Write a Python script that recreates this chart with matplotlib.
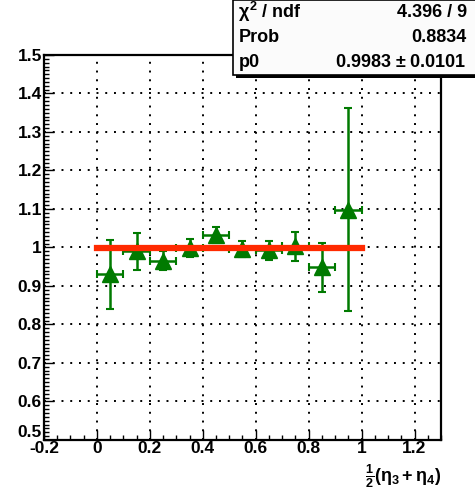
import matplotlib
matplotlib.use("Agg")
import matplotlib.pyplot as plt
from matplotlib.patches import Rectangle
from matplotlib.ticker import MultipleLocator

plt.rcParams['font.family'] = ['Liberation Sans', 'DejaVu Sans']
plt.rcParams['font.weight'] = 'bold'
plt.rcParams['mathtext.fontset'] = 'custom'
plt.rcParams['mathtext.rm'] = 'Liberation Sans:bold'
plt.rcParams['mathtext.bf'] = 'Liberation Sans:bold'
plt.rcParams['mathtext.it'] = 'Liberation Sans:bold'

# data
x_centers = [0.05, 0.15, 0.25, 0.35, 0.45, 0.55, 0.65, 0.75, 0.85, 0.95]
x_err = [0.05] * 10
ratio = [0.930, 0.990, 0.966, 0.998, 1.033, 0.996, 0.993, 1.003, 0.948, 1.098]
ratio_err = [0.090, 0.048, 0.024, 0.023, 0.021, 0.022, 0.025, 0.037, 0.064, 0.264]
fit_p0 = 0.9983
fit_range = [0.0, 1.0]
stats_names = [r'$\chi^{2}$ / ndf', 'Prob', 'p0']
stats_values = ['4.396 / 9', '0.8834', '0.9983 $\\pm$ 0.0101']

fig = plt.figure(figsize=(4.75, 4.91), dpi=100)
ax = fig.add_axes([0.0926, 0.104, 0.8358, 0.784])

ax.errorbar(x_centers, ratio, xerr=x_err, yerr=ratio_err, fmt='^', color='#007a00',
            ms=12, elinewidth=1.8, capsize=3, capthick=1.5, zorder=3)
ax.plot(fit_range, [fit_p0, fit_p0], color='#ff2a00', lw=4.5, zorder=4)

ax.set_xlim(-0.2, 1.3)
ax.set_ylim(0.5, 1.5)
ax.xaxis.set_minor_locator(MultipleLocator(0.05))
ax.yaxis.set_minor_locator(MultipleLocator(0.01))
ax.set_xticks([-0.2, 0, 0.2, 0.4, 0.6, 0.8, 1.0, 1.2])
ax.set_xticklabels(['-0.2', '0', '0.2', '0.4', '0.6', '0.8', '1', '1.2'])
ax.set_yticks([0.5, 0.6, 0.7, 0.8, 0.9, 1.0, 1.1, 1.2, 1.3, 1.4, 1.5])
ax.set_yticklabels(['0.5', '0.6', '0.7', '0.8', '0.9', '1', '1.1', '1.2', '1.3', '1.4', '1.5'])
ax.tick_params(which='major', direction='in', length=7, width=1, labelsize=12.5, pad=1.5)
ax.tick_params(which='minor', direction='in', length=3.5, width=1)
ax.tick_params(axis='x', pad=1)
ax.grid(True, which='major', color='black', linestyle=(0, (1, 3.5)), lw=1.4)
for s in ax.spines.values():
    s.set_linewidth(1.6)
# the lowest y label sits a bit higher, as in the original
ax.get_yticklabels()[0].set_va('bottom')

fig.text(0.928, 0.003, r'$\frac{1}{2}(\eta_{3}+\eta_{4})$', ha='right', va='bottom', fontsize=13)

# stats box with shadow
bx, by, bw, bh = 0.49, 0.848, 0.52, 0.152
fig.patches.append(Rectangle((bx + 0.006, by - 0.007), bw, bh, transform=fig.transFigure,
                             facecolor='black', edgecolor='none', zorder=10))
fig.patches.append(Rectangle((bx, by), bw, bh, transform=fig.transFigure,
                             facecolor='#fbfbfb', edgecolor='black', lw=1.2, zorder=11))
for i in range(3):
    yy = by + bh - (i + 0.5) * bh / 3
    fig.text(bx + 0.012, yy, stats_names[i], ha='left', va='center', fontsize=13, zorder=12)
    fig.text(0.983, yy, stats_values[i], ha='right', va='center', fontsize=13, zorder=12)

fig.savefig('out.png', dpi=100)
